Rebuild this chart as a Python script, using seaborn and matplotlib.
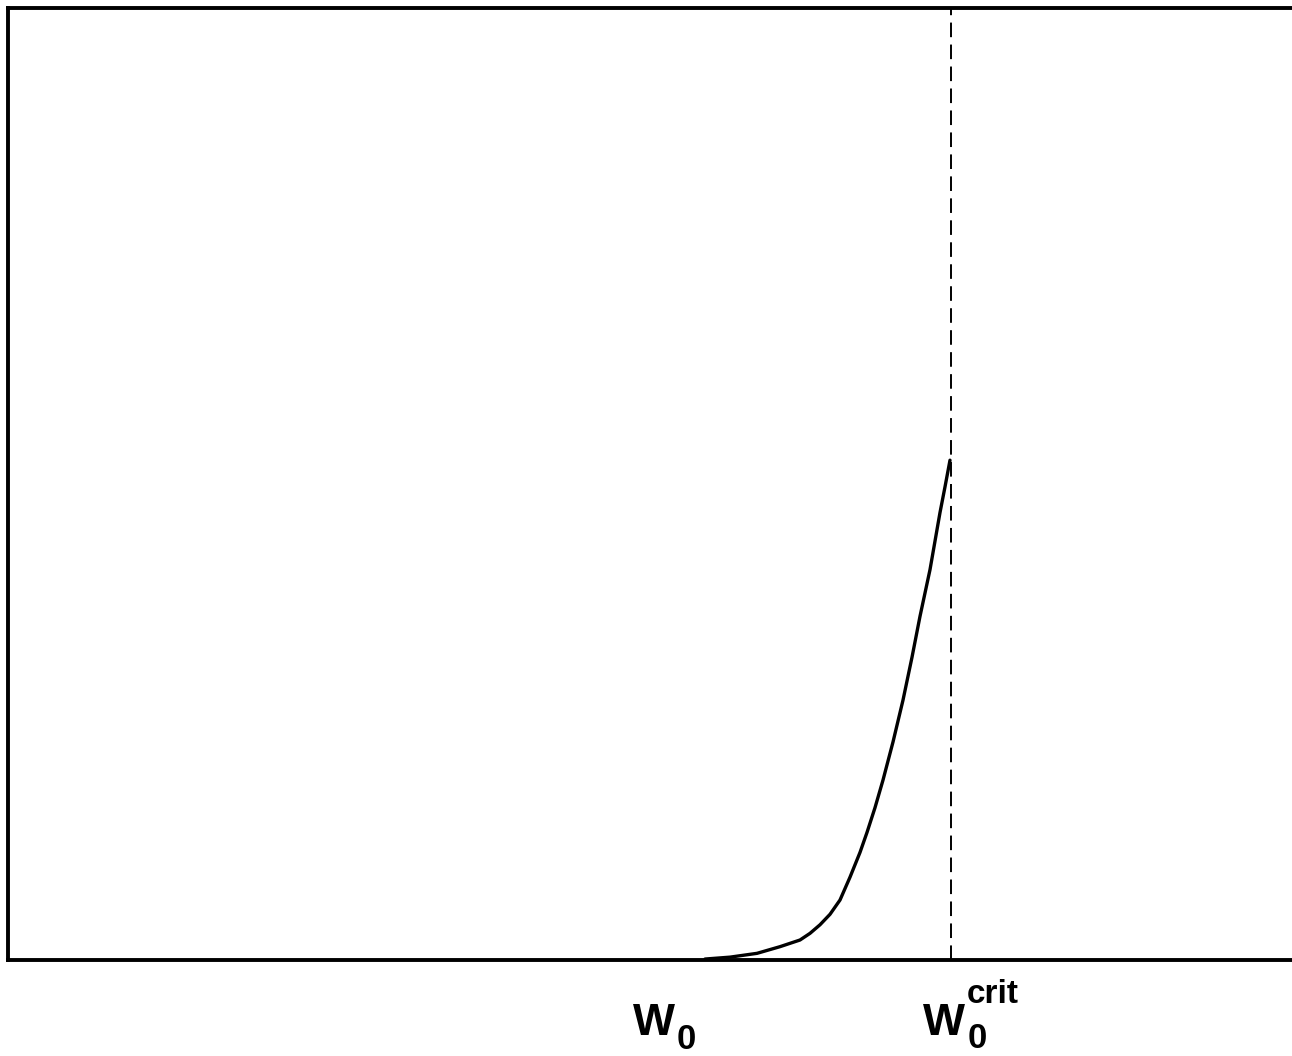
import matplotlib
matplotlib.use("Agg")
import matplotlib.pyplot as plt
import seaborn as sns

sns.set_theme(style="white")
plt.rcParams["font.family"] = ["Liberation Sans", "DejaVu Sans"]
plt.rcParams["text.color"] = "black"

# curve (wealth vs. density, arbitrary units)
wealth = [6.97, 7.22, 7.49, 7.72, 7.92, 8.02, 8.12, 8.22, 8.32, 8.42,
          8.52, 8.59, 8.67, 8.75, 8.85, 8.95, 9.04, 9.12, 9.22, 9.32,
          9.37, 9.42]
density = [0.001, 0.003, 0.007, 0.014, 0.021, 0.028, 0.037, 0.048, 0.063,
           0.087, 0.113, 0.134, 0.160, 0.189, 0.229, 0.273, 0.318, 0.361,
           0.410, 0.470, 0.497, 0.525]

w_crit = 9.43

# label pieces: (x, y in axes fraction, text, size)
label_x = [6.25, 6.69, 9.15, 9.60, 9.59]
label_y = [-0.079, -0.093, -0.079, -0.092, -0.045]
label_text = ["W", "0", "W", "0", "crit"]
label_size = [32, 25, 32, 25, 24]

fig = plt.figure(figsize=(12.92, 10.56), dpi=100)
ax = fig.add_axes([8 / 1292, 96 / 1056, 1300 / 1292, 952 / 1056])

sns.lineplot(x=wealth, y=density, color="black", linewidth=2.4, ax=ax)
ax.axvline(w_crit, color="black", linewidth=1.4, linestyle=(0, (7.5, 3.8)))

ax.set_xlim(0, 13)
ax.set_ylim(0, 1)
ax.set_xticks([])
ax.set_yticks([])

for x, y, text, size in zip(label_x, label_y, label_text, label_size):
    ax.text(x, y, text, ha="left", va="baseline", fontsize=size,
            fontweight="bold", color="black",
            transform=ax.get_xaxis_transform())

for side in ["left", "top", "bottom", "right"]:
    ax.spines[side].set_color("black")
    ax.spines[side].set_linewidth(2.8)

fig.savefig("out.png", dpi=100)
plt.close()
